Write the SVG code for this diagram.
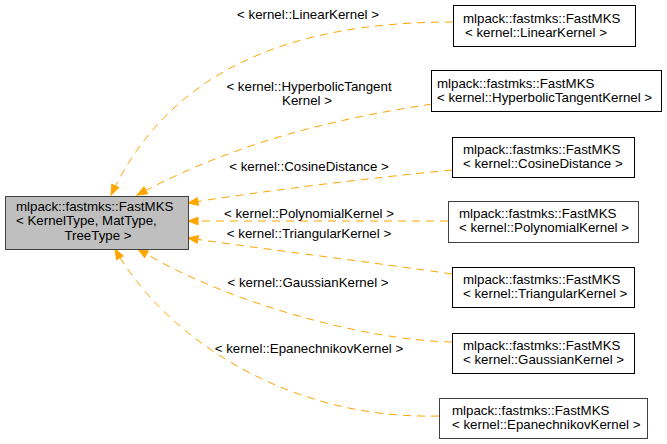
<svg xmlns="http://www.w3.org/2000/svg" width="667" height="444" viewBox="0 0 667 444">
<style>
text{font-family:"Liberation Sans",Arial,Helvetica,sans-serif;font-size:13.3px;fill:#000}
.lbl{text-anchor:middle}
.n rect{fill:#fff;stroke:#000;stroke-width:1}
.n rect.g{stroke:#404040}
#main rect{fill:#bfbfbf;stroke:#404040}
.e path{fill:none;stroke:#ffa500;stroke-width:1;stroke-dasharray:8,6;marker-end:url(#ah)}
</style>
<defs>
<marker id="ah" markerUnits="userSpaceOnUse" markerWidth="14" markerHeight="12" viewBox="-1 -6 13 12" refX="10" refY="0" orient="auto">
<path d="M0,-3.8 L10,0 L0,3.8 z" fill="#ffa500" stroke="#ffa500" stroke-width="1"/>
</marker>
</defs>
<rect width="667" height="444" fill="#fff"/>
<g id="edges" class="e">
<path d="M453,22 C290,22 170,70 111,195"/>
<path d="M432,104 C340,118 240,140 137,195"/>
<path d="M452,170 C370,178 270,190 188,203"/>
<path d="M448,221 L188,221"/>
<path d="M452,274 C370,262 270,250 188,238"/>
<path d="M452,342 C360,340 220,300 138,249"/>
<path d="M439,416 C280,420 160,330 115,249"/>
</g>
<g id="edge-labels">
<text class="lbl" x="308" y="19">&lt; kernel::LinearKernel &gt;</text>
<text class="lbl" x="309" y="90.5">&lt; kernel::HyperbolicTangent</text>
<text class="lbl" x="307" y="104.5">Kernel &gt;</text>
<text class="lbl" x="309" y="171">&lt; kernel::CosineDistance &gt;</text>
<text class="lbl" x="309" y="218">&lt; kernel::PolynomialKernel &gt;</text>
<text class="lbl" x="309" y="238">&lt; kernel::TriangularKernel &gt;</text>
<text class="lbl" x="308" y="286.5">&lt; kernel::GaussianKernel &gt;</text>
<text class="lbl" x="309" y="353">&lt; kernel::EpanechnikovKernel &gt;</text>
</g>
<g id="main" class="n">
<rect x="5.5" y="196.5" width="183" height="53"/>
<text x="16" y="211">mlpack::fastmks::FastMKS</text>
<text x="16" y="225">&lt; KernelType, MatType,</text>
<text x="98" y="239.5" text-anchor="middle">TreeType &gt;</text>
</g>
<g id="linear" class="n">
<rect x="453.5" y="5.5" width="182" height="41"/>
<text x="463" y="22.5">mlpack::fastmks::FastMKS</text>
<text x="465" y="36.5">&lt; kernel::LinearKernel &gt;</text>
</g>
<g id="hyperbolic" class="n">
<rect x="431.5" y="70.5" width="230" height="41"/>
<text x="437" y="87.5">mlpack::fastmks::FastMKS</text>
<text x="437" y="101.5">&lt; kernel::HyperbolicTangentKernel &gt;</text>
</g>
<g id="cosine" class="n">
<rect x="452.5" y="137.5" width="182" height="40"/>
<text x="463" y="154">mlpack::fastmks::FastMKS</text>
<text x="463" y="168">&lt; kernel::CosineDistance &gt;</text>
</g>
<g id="polynomial" class="n">
<rect class="g" x="448.5" y="201.5" width="190" height="41"/>
<text x="459" y="218">mlpack::fastmks::FastMKS</text>
<text x="459" y="232">&lt; kernel::PolynomialKernel &gt;</text>
</g>
<g id="triangular" class="n">
<rect x="452.5" y="267.5" width="182" height="40"/>
<text x="463" y="284">mlpack::fastmks::FastMKS</text>
<text x="463" y="298">&lt; kernel::TriangularKernel &gt;</text>
</g>
<g id="gaussian" class="n">
<rect x="452.5" y="333.5" width="182" height="40"/>
<text x="463" y="350">mlpack::fastmks::FastMKS</text>
<text x="463" y="364">&lt; kernel::GaussianKernel &gt;</text>
</g>
<g id="epanechnikov" class="n">
<rect class="g" x="439.5" y="398.5" width="208" height="40"/>
<text x="452" y="415">mlpack::fastmks::FastMKS</text>
<text x="452" y="429">&lt; kernel::EpanechnikovKernel &gt;</text>
</g>
</svg>
